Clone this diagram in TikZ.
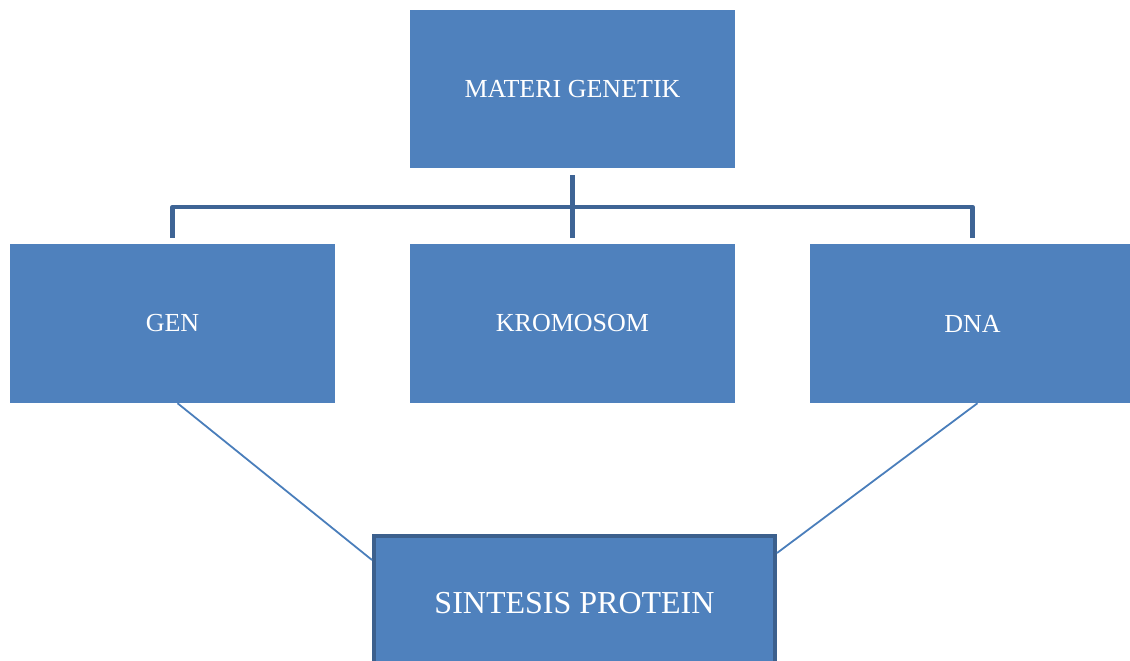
\documentclass[tikz,border=0pt]{standalone}
\usepackage{fontspec}
\setmainfont{Liberation Serif}
\begin{document}
\begin{tikzpicture}[x=1pt,y=-1pt,
	kotak/.style={rectangle,fill=biru,text=white,inner sep=0pt,minimum width=325pt,minimum height=159pt,font=\fontsize{26}{31}\selectfont},
	kotakbawah/.style={kotak,draw=vien,line width=4pt,minimum width=401pt,minimum height=134pt,font=\fontsize{32}{38}\selectfont},
	nhanh/.style={draw=xanhdam,line width=4.5pt,line join=round},
	noi/.style={draw=xanhnhat,line width=1.8pt}]
	\definecolor{biru}{RGB}{79,129,189}
	\definecolor{vien}{RGB}{60,96,141}
	\definecolor{xanhdam}{RGB}{62,100,149}
	\definecolor{xanhnhat}{RGB}{74,126,187}
	
	\useasboundingbox (0,0) rectangle (1130,661);
	%Cac kotak
	\node[kotak,minimum height=158pt] (materi) at (572.5,89) {MATERI GENETIK};
	\node[kotak] (gen) at (172.5,323.5) {GEN};
	\node[kotak] (kromosom) at (572.5,323.5) {KROMOSOM};
	\node[kotak] (dna) at (972.5,323.5) {DNA};
	\node[kotakbawah] (sintesis) at (574.5,603) {SINTESIS PROTEIN};
	%Nhanh
	\coordinate (bus) at (572.5,207);
	\draw[nhanh] ([yshift=6pt]gen.north) |- (bus) -| ([yshift=6pt]dna.north);
	\draw[nhanh] ([yshift=-7pt]materi.south) -- ([yshift=6pt]kromosom.north);
	\draw[noi] ([xshift=5pt]gen.south) -- ([yshift=43pt]sintesis.west);
	\draw[noi] ([xshift=5pt]dna.south) -- ([yshift=50pt]sintesis.east);
\end{tikzpicture}
\end{document}
